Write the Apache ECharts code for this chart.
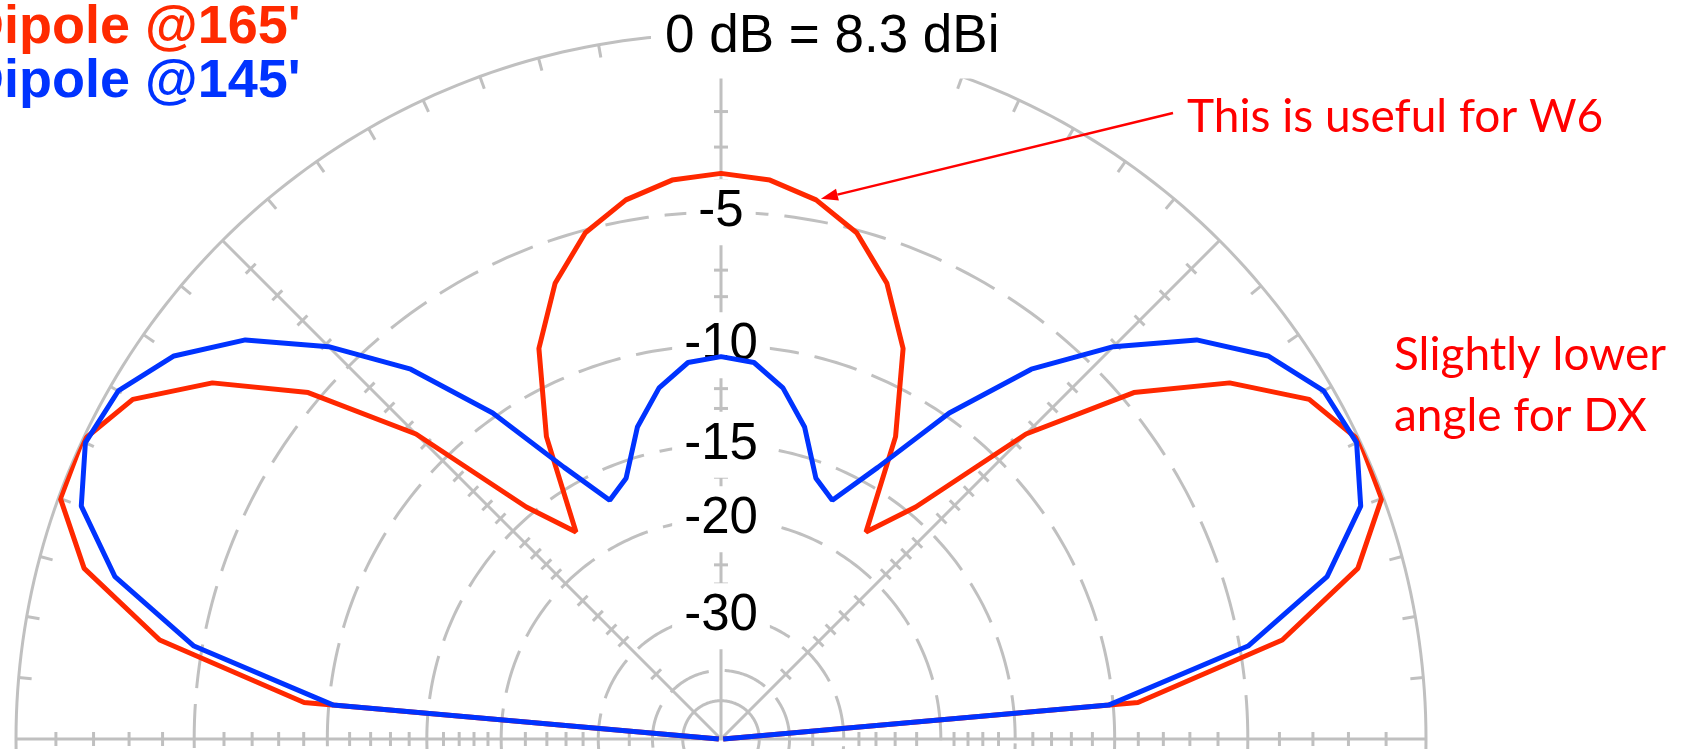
<!DOCTYPE html>
<html>
<head>
<meta charset="utf-8">
<script src="https://cdn.jsdelivr.net/npm/echarts@6/dist/echarts.min.js"></script>
<style>
  html, body { margin: 0; padding: 0; background: #fff; }
  #chart { width: 1686px; height: 749px; }
</style>
</head>
<body>
<div id="chart"></div>
<script>
// elevation angle in degrees (0 = horizon right, 180 = horizon left)
const angles = [0, 5, 10, 15, 20, 25, 30, 35, 40, 45, 50, 55, 60, 65, 70, 75, 80, 85, 90,
  95, 100, 105, 110, 115, 120, 125, 130, 135, 140, 145, 150, 155, 160, 165, 170, 175, 180]
// gain in dB, 0 dB = 8.3 dBi
const dipole165 = [-99, -8.95, -3.65, -1.15, -0.05, 0, -0.64, -2.18, -4.61, -8.43, -14.5, -17.6, -12.06, -8.45, -6.42, -5.09, -4.34, -3.92, -3.78,
  -3.92, -4.34, -5.09, -6.42, -8.45, -12.06, -17.6, -14.5, -8.43, -4.61, -2.18, -0.64, 0, -0.05, -1.15, -3.65, -8.95, -99]
const dipole145 = [-99, -10.2, -4.73, -2.0, -0.6, -0.09, -0.22, -0.93, -2.18, -4.11, -6.5, -9.81, -13.9, -16.9, -16.0, -13.4, -11.7, -10.7, -10.5,
  -10.7, -11.7, -13.4, -16.0, -16.9, -13.9, -9.81, -6.5, -4.11, -2.18, -0.93, -0.22, -0.09, -0.6, -2.0, -4.73, -10.2, -99]

// grid: rings, labels, spoke ticks, rim ticks
const ringLabels = [-5, -10, -15, -20, -30]
const dashedRings = [-5, -10, -15, -20, -30, -40]
const solidRings = [0, -50]
const spokeAngles = [0, 45, 90, 135, 180]
const spokeTicks = [-1, -2, -3, -4, -6, -7, -8, -9, -11, -12, -13, -14, -16, -17, -18, -19, -22, -24, -26, -28, -35]
const rimTicks = [5, 10, 15, 20, 25, 30, 35, 40, 50, 55, 60, 65, 70, 75, 80, 85, 95, 100, 105, 110, 115, 120, 125, 130, 140, 145, 150, 155, 160, 165, 170, 175]

// ARRL log periodic scale: every 2 dB down the radius shrinks to 0.89
function toRadius(db) {
  return Math.pow(0.89, -db / 2)
}

const GRAY = '#c0c0c0'
const GRID_W = 3

function renderGrid(params, api) {
  const pt = (db, a) => api.coord([toRadius(db), a])
  const children = []
  const ring = (db, dash) => {
    const pts = []
    for (let a = 0; a <= 360; a += 1) pts.push(pt(db, a))
    children.push({
      type: 'polyline',
      shape: { points: pts },
      style: { stroke: GRAY, lineWidth: GRID_W, fill: null, lineDash: dash }
    })
  }
  dashedRings.forEach(db => ring(db, [44, 16]))
  solidRings.forEach(db => ring(db, null))

  spokeAngles.forEach(a => {
    const c = api.coord([0, a])
    const e = pt(0, a)
    children.push({ type: 'line', shape: { x1: c[0], y1: c[1], x2: e[0], y2: e[1] }, style: { stroke: GRAY, lineWidth: GRID_W } })
    const rad = a * Math.PI / 180
    const nx = Math.sin(rad), ny = Math.cos(rad)
    spokeTicks.forEach(db => {
      const p = pt(db, a)
      children.push({
        type: 'line',
        shape: { x1: p[0] - 7 * nx, y1: p[1] - 7 * ny, x2: p[0] + 7 * nx, y2: p[1] + 7 * ny },
        style: { stroke: GRAY, lineWidth: GRID_W }
      })
    })
  })

  rimTicks.forEach(a => {
    const p = pt(0, a)
    const rad = a * Math.PI / 180
    children.push({
      type: 'line',
      shape: { x1: p[0], y1: p[1], x2: p[0] - 13 * Math.cos(rad), y2: p[1] + 13 * Math.sin(rad) },
      style: { stroke: GRAY, lineWidth: GRID_W }
    })
  })

  ringLabels.forEach(db => {
    const p = pt(db, 90)
    children.push({
      type: 'text',
      x: p[0], y: p[1],
      style: {
        text: String(db),
        font: '51px "Liberation Sans", Arial, sans-serif',
        fill: '#000',
        align: 'center',
        verticalAlign: 'middle',
        backgroundColor: '#fff',
        padding: [0, 12, 15, 12]
      }
    })
  })
  return { type: 'group', children }
}

const chart = echarts.init(document.getElementById('chart'))

chart.setOption({
  animation: false,
  backgroundColor: '#fff',
  polar: { center: [721, 739], radius: 705 },
  angleAxis: { type: 'value', min: 0, max: 360, startAngle: 0, clockwise: false, show: false },
  radiusAxis: { type: 'value', min: 0, max: 1, show: false },
  series: [
    {
      type: 'custom',
      coordinateSystem: 'polar',
      silent: true,
      z: 1,
      data: [[0, 0]],
      renderItem: renderGrid
    },
    {
      name: "Dipole @165'",
      type: 'line',
      coordinateSystem: 'polar',
      showSymbol: false,
      z: 5,
      lineStyle: { color: '#ff2800', width: 5 },
      data: angles.map((a, i) => [toRadius(dipole165[i]), a])
    },
    {
      name: "Dipole @145'",
      type: 'line',
      coordinateSystem: 'polar',
      showSymbol: false,
      z: 6,
      lineStyle: { color: '#0033ff', width: 5 },
      data: angles.map((a, i) => [toRadius(dipole145[i]), a])
    }
  ]
})

// arrow tip points at the 165' curve around 80 degrees
const tipIdx = angles.indexOf(80)
const target = chart.convertToPixel({ seriesIndex: 1 }, [toRadius(dipole165[tipIdx]), angles[tipIdx]])
const start = [1173, 113]
const dx = target[0] - start[0], dy = target[1] - start[1]
const len = Math.sqrt(dx * dx + dy * dy)
const ux = dx / len, uy = dy / len
const tip = [target[0] - ux * 5, target[1] - uy * 5]
const base = [tip[0] - ux * 17, tip[1] - uy * 17]

chart.setOption({
  graphic: [
    {
      type: 'text', z: 100, x: -35, y: 28,
      style: { text: "Dipole @165'", font: 'bold 54px "Liberation Sans", Arial, sans-serif', fill: '#ff2a00', verticalAlign: 'middle' }
    },
    {
      type: 'text', z: 100, x: -35, y: 82,
      style: { text: "Dipole @145'", font: 'bold 54px "Liberation Sans", Arial, sans-serif', fill: '#0033ff', verticalAlign: 'middle' }
    },
    {
      type: 'text', z: 100, x: 651, y: 37,
      style: {
        text: '0 dB = 8.3 dBi', font: '53px "Liberation Sans", Arial, sans-serif', fill: '#000',
        verticalAlign: 'middle', backgroundColor: '#fff', padding: [12, 10, 18, 14]
      }
    },
    {
      type: 'line', z: 100,
      shape: { x1: start[0], y1: start[1], x2: base[0], y2: base[1] },
      style: { stroke: '#ff0000', lineWidth: 2.5 }
    },
    {
      type: 'polygon', z: 100,
      shape: { points: [tip, [base[0] - uy * 6, base[1] + ux * 6], [base[0] + uy * 6, base[1] - ux * 6]] },
      style: { fill: '#ff0000' }
    },
    {
      type: 'text', z: 100, x: 1187, y: 117,
      style: { text: 'This is useful for W6', font: '46px Lato, "Open Sans", sans-serif', fill: '#ff0000', verticalAlign: 'middle' }
    },
    {
      type: 'text', z: 100, x: 1394, y: 355,
      style: { text: 'Slightly lower', font: '46px Lato, "Open Sans", sans-serif', fill: '#ff0000', verticalAlign: 'middle' }
    },
    {
      type: 'text', z: 100, x: 1394, y: 416,
      style: { text: 'angle for DX', font: '46px Lato, "Open Sans", sans-serif', fill: '#ff0000', verticalAlign: 'middle' }
    }
  ]
})
</script>
</body>
</html>
